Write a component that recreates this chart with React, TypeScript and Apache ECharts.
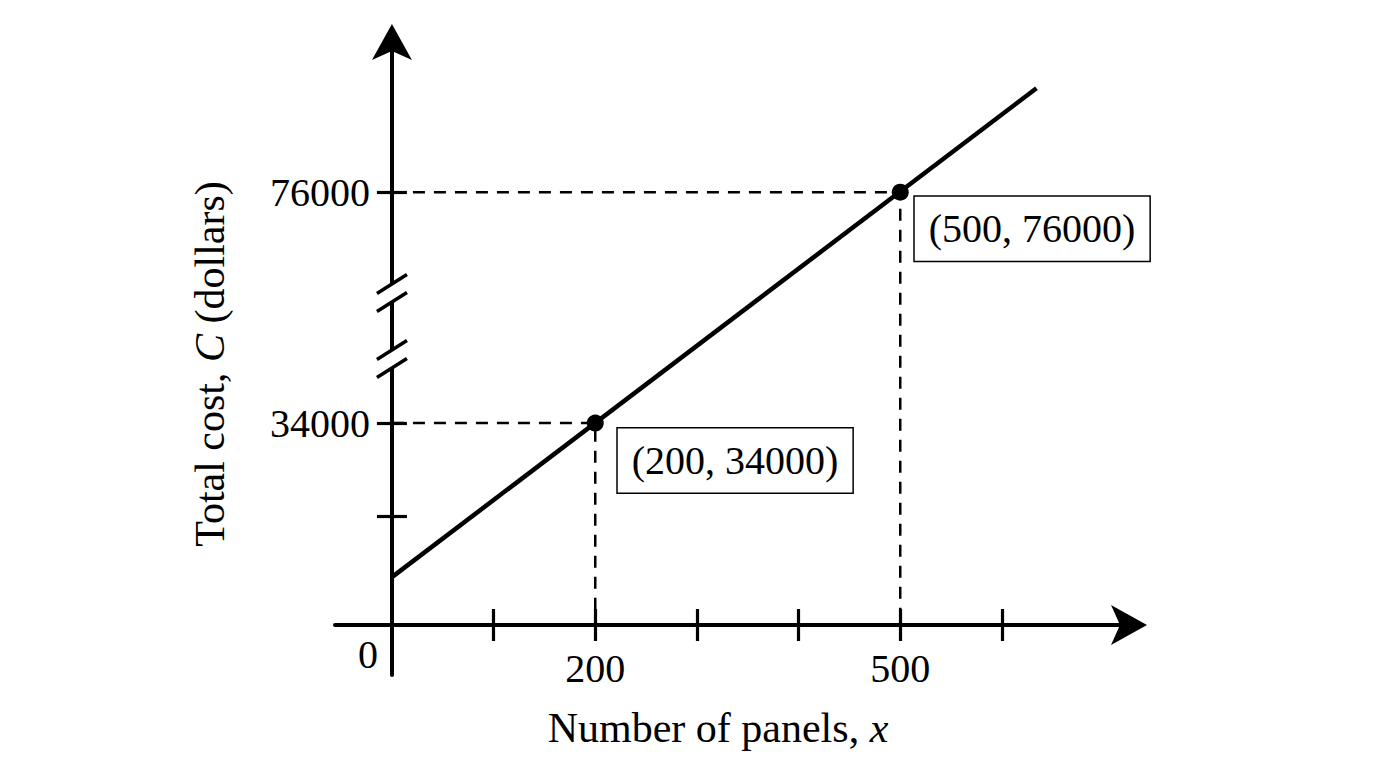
import { useEffect, useRef } from 'react'
import * as echarts from 'echarts'

// 数据
const lineX = [0, 634]
const lineC = [6000, 94900]
const pointX = [200, 500]
const pointC = [34000, 76000]
const xTicks = [100, 200, 300, 400, 500, 600]
const xLabels = [200, 500]
const yTicks = [17000, 34000, 76000]
const yLabels = [34000, 76000]

// 坐标轴范围
const X_MIN = -56
const X_MAX = 725
const Y_MIN = -11800
const Y_MAX = 103300
// 辅助轴（像素单位），x 轴落在它的 0 处
const H_MIN = -50
const H_MAX = 583
const C_AT_X_AXIS = Y_MIN + ((Y_MAX - Y_MIN) * (0 - H_MIN)) / (H_MAX - H_MIN)

const FONT = "'Liberation Serif', 'Times New Roman', serif"
const BLACK = '#000'
// 标签框相对点的位置
const labelOffsets = [[31, 14], [23, 13]]
// 断轴符号的纵向位置 (px)
const breakY = [293, 359]

const axisLineStyle = { color: BLACK, width: 4 }
const tickStyle = { color: BLACK, width: 3.2 }

const App: React.FC = () => {
  const chartRef = useRef<HTMLDivElement | null>(null)

  useEffect(() => {
    document.body.style.margin = '0'
    if (chartRef.current === null) return
    const chart = echarts.init(chartRef.current, null, { renderer: 'svg' })

    const titleStyle = (text: string) => ({
      text,
      fontSize: 42,
      fontFamily: FONT,
      fill: BLACK,
      align: 'center',
      verticalAlign: 'middle',
      textAlign: 'center',
      textVerticalAlign: 'middle',
      rich: {
        i: { fontSize: 42, fontFamily: FONT, fontStyle: 'italic', fill: BLACK, color: BLACK }
      }
    })

    const option: any = {
      animation: false,
      backgroundColor: '#fff',
      grid: { left: 335, right: 247, top: 42, bottom: 93, outerBoundsMode: 'none' },
      xAxis: [
        {
          type: 'value',
          min: X_MIN,
          max: X_MAX,
          position: 'bottom',
          axisLine: {
            onZero: true,
            onZeroAxisIndex: 1,
            symbol: ['none', 'arrow'],
            symbolSize: [30, 36],
            symbolOffset: [0, 18],
            lineStyle: axisLineStyle
          },
          axisTick: { show: true, customValues: xTicks, length: 16, lineStyle: tickStyle },
          axisLabel: {
            customValues: xLabels,
            formatter: (v: number) => String(v),
            // 标签留在网格底边，负值把它们拉回到 x 轴下方
            margin: -27,
            fontSize: 40,
            fontFamily: FONT,
            color: BLACK
          },
          splitLine: { show: false }
        },
        {
          // 向上的刻度
          type: 'value',
          min: X_MIN,
          max: X_MAX,
          position: 'top',
          axisLine: { onZero: true, onZeroAxisIndex: 1, lineStyle: { opacity: 0 } },
          axisTick: { show: true, customValues: xTicks, length: 16, lineStyle: tickStyle },
          axisLabel: { show: false },
          splitLine: { show: false }
        }
      ],
      yAxis: [
        {
          type: 'value',
          min: Y_MIN,
          max: Y_MAX,
          position: 'left',
          axisLine: {
            onZero: true,
            symbol: ['none', 'arrow'],
            symbolSize: [30, 36],
            symbolOffset: [0, 18],
            lineStyle: axisLineStyle
          },
          axisTick: { show: true, customValues: yTicks, length: 15, lineStyle: tickStyle },
          axisLabel: {
            customValues: yLabels,
            formatter: (v: number) => String(v),
            margin: -35,
            fontSize: 40,
            fontFamily: FONT,
            color: BLACK
          },
          splitLine: { show: false }
        },
        {
          // 辅助轴
          type: 'value',
          min: H_MIN,
          max: H_MAX,
          show: false,
          axisLine: { onZero: false },
          splitLine: { show: false }
        },
        {
          // 向右的刻度
          type: 'value',
          min: Y_MIN,
          max: Y_MAX,
          position: 'right',
          axisLine: { onZero: true, lineStyle: { opacity: 0 } },
          axisTick: { show: true, customValues: yTicks, length: 15, lineStyle: tickStyle },
          axisLabel: { show: false },
          splitLine: { show: false }
        }
      ],
      series: [
        ...pointX.map((x, i) => ({
          type: 'line',
          symbol: 'none',
          silent: true,
          lineStyle: { color: BLACK, width: 2.5, type: [12, 9] },
          data: [[0, pointC[i]], [x, pointC[i]], [x, C_AT_X_AXIS]]
        })),
        {
          type: 'line',
          symbol: 'none',
          silent: true,
          lineStyle: { color: BLACK, width: 4.5 },
          data: lineX.map((x, i) => [x, lineC[i]])
        },
        {
          type: 'scatter',
          symbolSize: 17,
          silent: true,
          itemStyle: { color: BLACK, opacity: 1 },
          label: {
            show: true,
            formatter: (p: any) => `(${p.value[0]}, ${p.value[1]})`,
            fontSize: 40,
            fontFamily: FONT,
            color: BLACK,
            opacity: 1,
            backgroundColor: '#fff',
            borderColor: BLACK,
            borderWidth: 1.5,
            padding: [12, 14, 12, 14]
          },
          data: pointX.map((x, i) => ({
            value: [x, pointC[i]],
            label: { position: labelOffsets[i] }
          }))
        }
      ],
      graphic: [
        { type: 'text', x: 718, y: 728, z: 100, style: titleStyle('Number of panels, {i|x}') },
        { type: 'text', x: 210, y: 364, rotation: Math.PI / 2, z: 100, style: titleStyle('Total cost, {i|C} (dollars)') },
        {
          type: 'text',
          x: 368,
          y: 654,
          z: 100,
          style: {
            text: '0',
            fontSize: 40,
            fontFamily: FONT,
            fill: BLACK,
            align: 'center',
            verticalAlign: 'middle',
            textAlign: 'center',
            textVerticalAlign: 'middle'
          }
        }
      ]
    }
    chart.setOption(option)

    // 断轴符号
    const ax = chart.convertToPixel({ xAxisIndex: 0 }, 0) as number
    const marks: any[] = []
    breakY.forEach((cy) => {
      marks.push({ type: 'rect', z: 100, shape: { x: ax - 5, y: cy - 9, width: 10, height: 18 }, style: { fill: '#fff' } })
      ;[-9, 9].forEach((d) => {
        marks.push({
          type: 'line',
          z: 101,
          shape: { x1: ax - 15, y1: cy + d + 9.5, x2: ax + 15, y2: cy + d - 9.5 },
          style: { stroke: BLACK, lineWidth: 3.5 }
        })
      })
    })
    chart.setOption({ graphic: [...option.graphic, ...marks] })

    return () => {
      chart.dispose()
    }
  }, [])

  return (
    <div
      ref={chartRef}
      style={{ position: 'fixed', left: 0, top: 0, width: '1376px', height: '768px' }}
    ></div>
  )
}

export default App
